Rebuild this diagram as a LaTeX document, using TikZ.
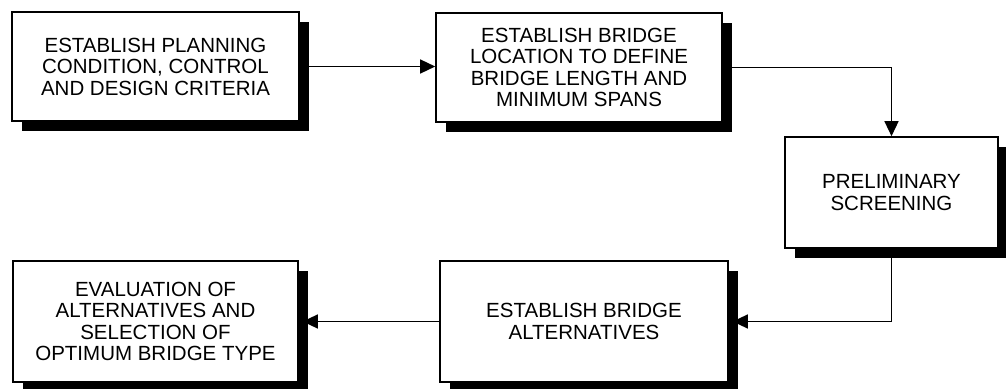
\documentclass[tikz,border=0pt]{standalone}
\usepackage{fontspec}
\setmainfont{Liberation Sans}
\usetikzlibrary{arrows.meta,shadows}
\tikzset{
  stepbox/.style={draw=black, line width=1.6pt, fill=white, inner sep=0pt,
    align=center, font=\fontsize{20.5}{21.5}\selectfont,
    general shadow={fill=black, shadow xshift=10pt, shadow yshift=-10pt}},
  conn/.style={draw=black, line width=1.4pt,
    -{Triangle[length=15pt,width=14pt]}},
}
\begin{document}
\begin{tikzpicture}[x=1pt,y=-1pt]
\useasboundingbox (0,0) rectangle (1006,388);
\node[stepbox, minimum width=287pt, minimum height=109pt] (b1) at (155.5,66.5)
  {ESTABLISH PLANNING\\CONDITION, CONTROL\\AND DESIGN CRITERIA};
\node[stepbox, minimum width=286pt, minimum height=109pt] (b2) at (579,67.5)
  {ESTABLISH BRIDGE\\LOCATION TO DEFINE\\BRIDGE LENGTH AND\\MINIMUM SPANS};
\node[stepbox, minimum width=213pt, minimum height=111pt] (b3) at (891.5,192.5)
  {PRELIMINARY\\SCREENING};
\node[stepbox, minimum width=288pt, minimum height=121pt] (b4) at (584,321.5)
  {ESTABLISH BRIDGE\\ALTERNATIVES};
\node[stepbox, minimum width=285pt, minimum height=121pt] (b5) at (155.5,321.5)
  {EVALUATION OF\\ALTERNATIVES AND\\SELECTION OF\\OPTIMUM BRIDGE TYPE};
\draw[conn] (b1.east) -- (b1.east -| b2.west);
\draw[conn] (b2.east) -- (b2.east -| b3.north) -- (b3.north);
\draw[conn] (b3.south) -- (b3.south |- b4.east) -- ([xshift=4pt]b4.east);
\draw[conn] (b4.west) -- ([xshift=4pt]b4.west -| b5.east);
\end{tikzpicture}
\end{document}
